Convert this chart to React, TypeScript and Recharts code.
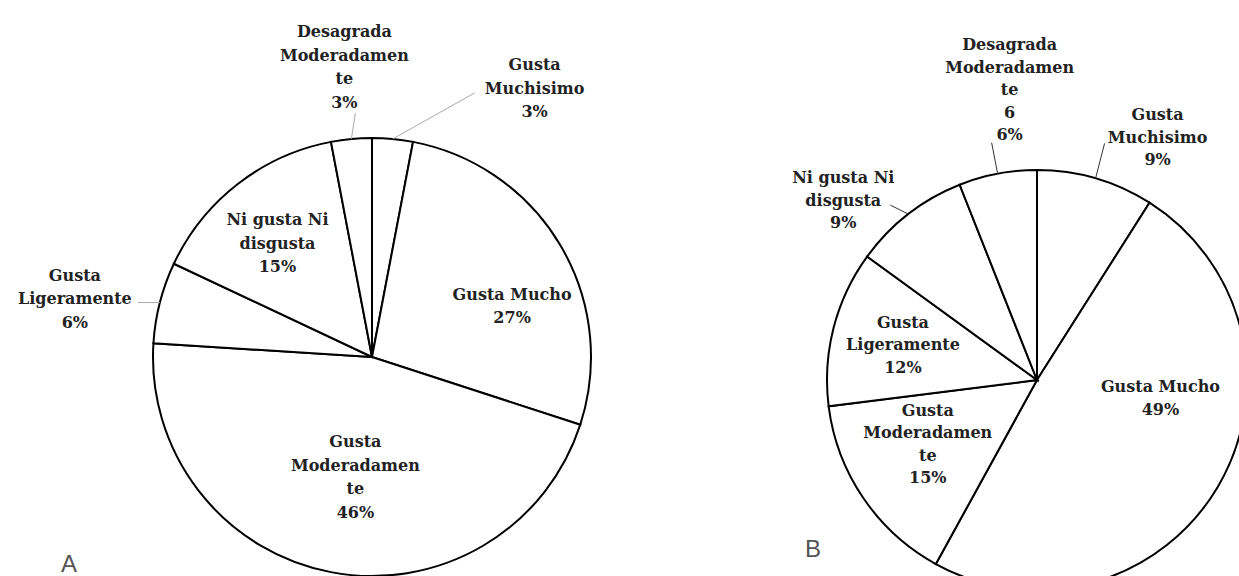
import { Cell, Pie, PieChart } from "recharts";

// categories, clockwise from 12 o'clock
const categories = [
  "Gusta Muchisimo",
  "Gusta Mucho",
  "Gusta Moderadamente",
  "Gusta Ligeramente",
  "Ni gusta Ni disgusta",
  "Desagrada Moderadamente",
];

const percentA = [3, 27, 46, 6, 15, 3];
const percentB = [9, 49, 15, 12, 9, 6];

// label text as it is wrapped in the picture
const labelLinesA = [
  ["Gusta", "Muchisimo"],
  ["Gusta Mucho"],
  ["Gusta", "Moderadamen", "te"],
  ["Gusta", "Ligeramente"],
  ["Ni gusta Ni", "disgusta"],
  ["Desagrada", "Moderadamen", "te"],
];
const labelLinesB = [
  ["Gusta", "Muchisimo"],
  ["Gusta Mucho"],
  ["Gusta", "Moderadamen", "te"],
  ["Gusta", "Ligeramente"],
  ["Ni gusta Ni", "disgusta"],
  ["Desagrada", "Moderadamen", "te", "6"],
];

type LabelPos = { outside: boolean; dx: number; dy: number; lead?: [number, number] };

// nudges from the slice's mid point (0.6 r inside, on the rim outside)
const layoutA: LabelPos[] = [
  { outside: true, dx: 142, dy: -51, lead: [-60, 5] },
  { outside: false, dx: 27, dy: 16 },
  { outside: false, dx: 8, dy: -9 },
  { outside: true, dx: -85, dy: -4, lead: [63, 4] },
  { outside: false, dx: -14, dy: -10 },
  { outside: true, dx: -7, dy: -72, lead: [11, 46] },
];
const layoutB: LabelPos[] = [
  { outside: true, dx: 62, dy: -41, lead: [-53, 6] },
  { outside: false, dx: 15, dy: -46 },
  { outside: false, dx: -5, dy: -7 },
  { outside: false, dx: -12, dy: -4 },
  { outside: true, dx: -65, dy: -14, lead: [47, 5] },
  { outside: true, dx: 12, dy: -84, lead: [-18, 53] },
];

const RADIAN = Math.PI / 180;
const FONT = "'DejaVu Serif', serif";

const makeLabel =
  (lines: string[][], layout: LabelPos[], lineH: number, leadColor: string) =>
  (props: any) => {
    const { cx, cy, midAngle, outerRadius, index, value } = props;
    const lp = layout[index];
    const cos = Math.cos(-midAngle * RADIAN);
    const sin = Math.sin(-midAngle * RADIAN);
    const r = lp.outside ? outerRadius : outerRadius * 0.6;
    const tx = cx + r * cos + lp.dx;
    const ty = cy + r * sin + lp.dy;
    const text = [...lines[index], `${value}%`];
    const top = ty - ((text.length - 1) * lineH) / 2;
    return (
      <g key={`lbl-${index}`}>
        {lp.lead && (
          <line
            x1={cx + outerRadius * cos}
            y1={cy + outerRadius * sin}
            x2={tx + lp.lead[0]}
            y2={ty + lp.lead[1]}
            stroke={leadColor}
            strokeWidth={1}
          />
        )}
        <text
          x={tx}
          textAnchor="middle"
          fontFamily={FONT}
          fontWeight="bold"
          fontSize={16}
          fill="#222"
        >
          {text.map((t, i) => (
            <tspan key={i} x={tx} y={top + i * lineH} dy="0.35em">
              {t}
            </tspan>
          ))}
        </text>
      </g>
    );
  };

const dataA = categories.map((name, i) => ({ name, value: percentA[i] }));
const dataB = categories.map((name, i) => ({ name, value: percentB[i] }));

const App = () => {
  return (
    <div style={{ position: "absolute", left: 0, top: 0, width: 1239, height: 576, background: "#fff" }}>
      <PieChart width={1239} height={576}>
        <Pie
          data={dataA}
          dataKey="value"
          nameKey="name"
          cx={367}
          cy={352}
          outerRadius={219}
          startAngle={90}
          endAngle={-270}
          stroke="#000"
          strokeWidth={2}
          labelLine={false}
          label={makeLabel(labelLinesA, layoutA, 23.5, "#aaa")}
          isAnimationActive={false}
        >
          {dataA.map((d) => (
            <Cell key={d.name} fill="#fff" />
          ))}
        </Pie>
        <Pie
          data={dataB}
          dataKey="value"
          nameKey="name"
          cx={1032}
          cy={375}
          outerRadius={210}
          startAngle={90}
          endAngle={-270}
          stroke="#000"
          strokeWidth={2}
          labelLine={false}
          label={makeLabel(labelLinesB, layoutB, 22.5, "#333")}
          isAnimationActive={false}
        >
          {dataB.map((d) => (
            <Cell key={d.name} fill="#fff" />
          ))}
        </Pie>
      </PieChart>
      <svg width={1239} height={576} style={{ position: "absolute", left: 0, top: 0, pointerEvents: "none" }}>
        <text x={61} y={572} fontFamily="'Liberation Sans', sans-serif" fontSize={24} fill="#555">
          A
        </text>
        <text x={805} y={557} fontFamily="'Liberation Sans', sans-serif" fontSize={24} fill="#555">
          B
        </text>
      </svg>
    </div>
  );
};

export default App;
